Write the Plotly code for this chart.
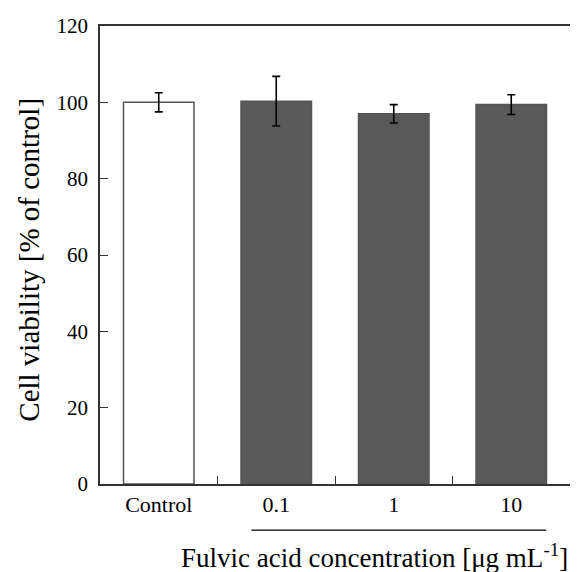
import plotly.graph_objects as go

categories = ["Control", "0.1", "1", "10"]
viability = [100.0, 100.3, 97.0, 99.4]
errors = [2.5, 6.5, 2.4, 2.6]
fill_colors = ["white", "#595959", "#595959", "#595959"]
y_ticks = [0, 20, 40, 60, 80, 100, 120]

FONT = "Liberation Serif"

# page body has an 8px margin, so figure coords = reference coords - 8
W, H = 570, 564
L, R, T, B = 92, 6, 10, 88
PW, PH = W - L - R, H - T - B

fig = go.Figure()
fig.add_trace(go.Bar(
    x=categories,
    y=viability,
    marker=dict(color=fill_colors, line=dict(color="#555555", width=1.5)),
    error_y=dict(type="data", array=errors, visible=True, color="black",
                 thickness=1.6, width=4),
    width=0.6,
    showlegend=False,
))

fig.update_layout(
    width=W, height=H,
    margin=dict(l=L, r=R, t=T, b=B),
    plot_bgcolor="white", paper_bgcolor="white",
    font=dict(family=FONT, color="black", size=22),
    xaxis=dict(
        type="category", range=[-0.5, 3.5],
        showline=True, linecolor="#333333", linewidth=1.5, mirror=True,
        ticks="inside", tickson="boundaries", ticklen=8, tickcolor="#333333",
        tickwidth=1.2,
        tickfont=dict(size=22, family=FONT),
        showgrid=False,
    ),
    yaxis=dict(
        range=[0, 120], tickvals=y_ticks,
        showline=True, linecolor="#333333", linewidth=1.5, mirror=True,
        ticks="inside", ticklen=8, tickcolor="#333333", tickwidth=1.2,
        tickfont=dict(size=21, family=FONT), ticklabelstandoff=6,
        ticklabeloverflow="allow",
        showgrid=False, zeroline=False,
    ),
)

# y-axis title
fig.add_annotation(
    text="Cell viability [% of control]",
    xref="paper", yref="paper",
    x=(20.5 - L) / PW, y=1 - (248 - T) / PH,
    xanchor="center", yanchor="middle", textangle=-90,
    showarrow=False, font=dict(size=29, family=FONT, color="black"),
)

fig.add_shape(type="line", xref="paper", yref="paper",
              x0=(252 - 100) / PW, x1=(548 - 100) / PW,
              y0=-(531 - 484) / PH, y1=-(531 - 484) / PH,
              line=dict(color="black", width=1.2))

fig.add_annotation(
    text="Fulvic acid concentration [μg mL<sup>-1</sup>]",
    xref="paper", yref="paper",
    x=(572 - 100) / PW, y=-(557 - 484) / PH, xanchor="right", yanchor="middle",
    showarrow=False, font=dict(size=27, family=FONT, color="black"),
)

fig.write_html("out.html")
